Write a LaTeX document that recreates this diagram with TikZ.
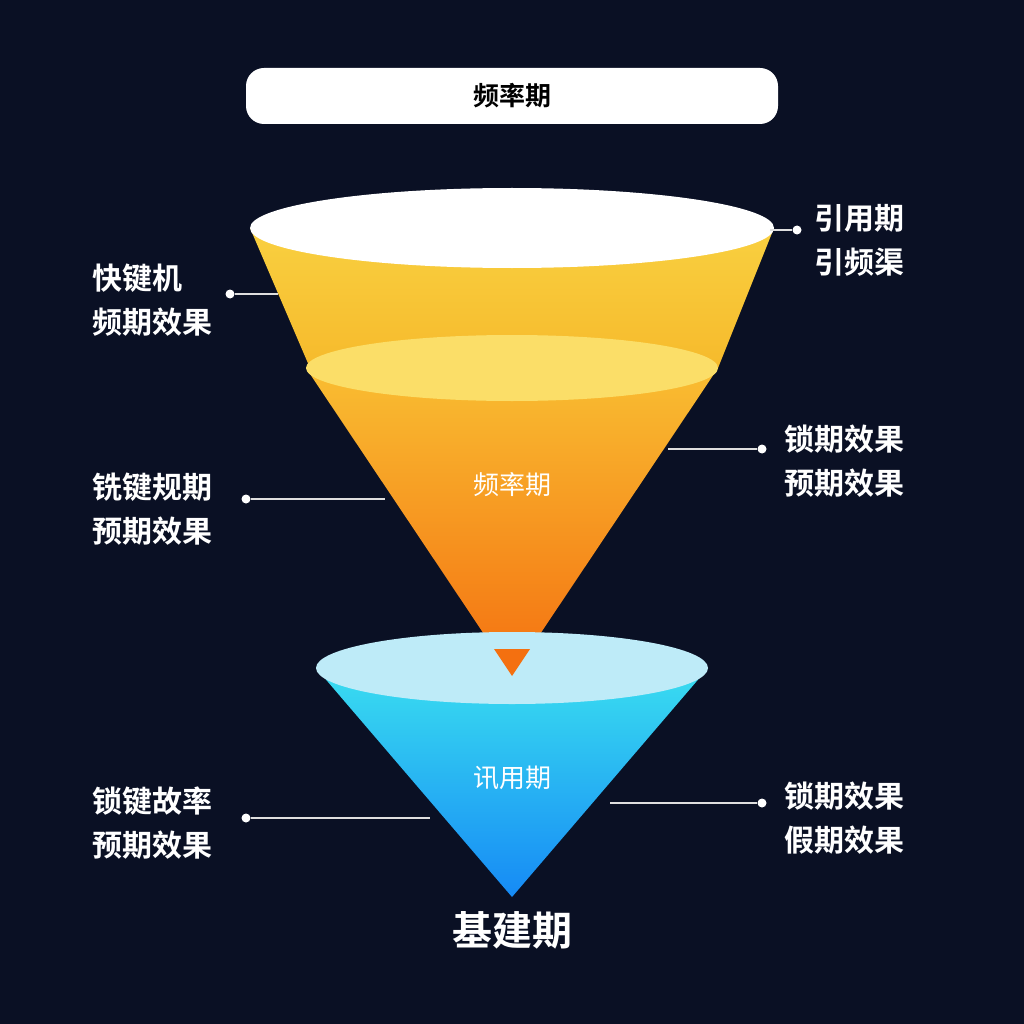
\documentclass[tikz,border=0pt]{standalone}
\usepackage{fontspec}
\newfontfamily\cjk{Noto Sans CJK SC}[BoldFont={Noto Sans CJK SC Bold}]
\definecolor{bg}{HTML}{0A1024}
\definecolor{ytop}{HTML}{F9D040}
\definecolor{ybot}{HTML}{F6BA2C}
\definecolor{otop}{HTML}{F9BE32}
\definecolor{obot}{HTML}{F47010}
\definecolor{oell}{HTML}{FBDE68}
\definecolor{btop}{HTML}{3ADEF0}
\definecolor{bbot}{HTML}{168AF5}
\definecolor{bell}{HTML}{BEEBF8}
\begin{document}
\begin{tikzpicture}[x=1pt,y=-1pt,
  lab/.style={font=\cjk\bfseries\fontsize{30}{44}\selectfont,text=white,align=left,anchor=west,inner sep=0},
  lead/.style={draw=white!75!gray,line width=1.2pt},
  dot/.style={circle,fill=white,inner sep=0,minimum size=9pt}]
\fill[bg] (0,0) rectangle (1024,1024);
\useasboundingbox (0,0) rectangle (1024,1024);
% title
\node[fill=white,rounded corners=18pt,minimum width=532pt,minimum height=56pt,inner sep=0,
  font=\cjk\bfseries\fontsize{26}{30}\selectfont,text=black] (title) at (512,96) {频率期};
% yellow cone body
\shade[top color=ytop,bottom color=ybot] (250,228) -- (310,368) -- (718,368) -- (774,228) -- cycle;
\fill[white] (512,228) ellipse [x radius=262,y radius=40];
% orange cone
\shade[top color=otop,bottom color=obot] (306,368) -- (512,676) -- (718,368) -- cycle;
\fill[oell] (512,368) ellipse [x radius=206,y radius=33];
% blue cone
\shade[top color=btop,bottom color=bbot] (316,668) -- (512,897) -- (708,668) -- cycle;
\fill[bell] (512,668) ellipse [x radius=196,y radius=36];
\fill[obot] (494,649) -- (512,676) -- (530,649) -- cycle;
% cone labels
\node[font=\cjk\fontsize{26}{30}\selectfont,text=white] (c1) at (512,485) {频率期};
\node[font=\cjk\fontsize{26}{30}\selectfont,text=white] (c2) at (512,778) {讯用期};
\node[font=\cjk\bfseries\fontsize{40}{44}\selectfont,text=white] (base) at (512,930) {基建期};
% left labels
\node[lab] (l1) at (92,300) {快键机\\频期效果};
\node[dot] (d1) at (230,294) {}; \coordinate (e1) at (278,294);
\draw[lead] (d1) -- (e1);
\node[lab] (l2) at (92,509) {铣键规期\\预期效果};
\node[dot] (d2) at (246,499) {}; \coordinate (e2) at (385,499);
\draw[lead] (d2) -- (e2);
\node[lab] (l3) at (92,823) {锁键故率\\预期效果};
\node[dot] (d3) at (246,818) {}; \coordinate (e3) at (430,818);
\draw[lead] (d3) -- (e3);
% right labels
\node[lab] (r1) at (814,240) {引用期\\引频渠};
\node[dot] (d4) at (797,230) {}; \coordinate (e4) at (770,230);
\draw[lead] (e4) -- (d4);
\node[lab] (r2) at (784,461) {锁期效果\\预期效果};
\node[dot] (d5) at (762,449) {}; \coordinate (e5) at (668,449);
\draw[lead] (e5) -- (d5);
\node[lab] (r3) at (784,818) {锁期效果\\假期效果};
\node[dot] (d6) at (762,803) {}; \coordinate (e6) at (610,803);
\draw[lead] (e6) -- (d6);
\end{tikzpicture}
\end{document}
